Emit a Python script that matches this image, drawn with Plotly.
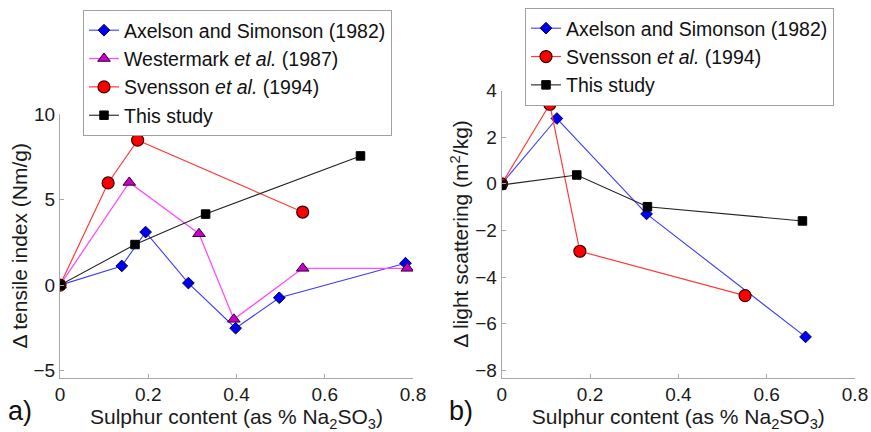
import plotly.graph_objects as go

# ---- data ----
# Panel a) tensile index
ax_tensile_x = [0, 0.14, 0.194, 0.291, 0.398, 0.497, 0.783]
ax_tensile_y = [0, 1.12, 3.1, 0.12, -2.52, -0.74, 1.28]
we_tensile_x = [0, 0.157, 0.315, 0.394, 0.55, 0.787]
we_tensile_y = [0, 6.0, 3.0, -2.0, 0.98, 0.98]
sv_tensile_x = [0, 0.109, 0.176, 0.55]
sv_tensile_y = [0, 5.97, 8.47, 4.27]
ts_tensile_x = [0, 0.17, 0.33, 0.681]
ts_tensile_y = [0, 2.37, 4.15, 7.55]

# Panel b) light scattering
ax_light_x = [0, 0.125, 0.328, 0.688]
ax_light_y = [0, 2.8, -1.29, -6.56]
sv_light_x = [0, 0.109, 0.177, 0.551]
sv_light_y = [0, 3.41, -2.89, -4.79]
ts_light_x = [0, 0.17, 0.33, 0.681]
ts_light_y = [-0.05, 0.38, -0.98, -1.59]

x_ticks = [0, 0.2, 0.4, 0.6, 0.8]
x_ticktext = ["0", "0.2", "0.4", "0.6", "0.8"]
ya_ticks = [-5, 0, 5, 10]
yb_ticks = [-8, -6, -4, -2, 0, 2, 4]

names = ["Axelson and Simonson (1982)", "Westermark <i>et al.</i> (1987)",
         "Svensson <i>et al.</i> (1994)", "This study"]

FONT = "Liberation Sans, Arial, sans-serif"
W, H = 871, 432

styles = {
    "ax": dict(line=dict(color="#3c3cff", width=1.1),
               marker=dict(symbol="diamond", size=9, color="#0000ee",
                           line=dict(color="#000050", width=1))),
    "we": dict(line=dict(color="#ff4cff", width=1.3),
               marker=dict(symbol="triangle-up", size=11, color="#c800c8",
                           line=dict(color="#300030", width=1))),
    "sv": dict(line=dict(color="#ff3a3a", width=1.2),
               marker=dict(symbol="circle", size=12, color="#ff0000",
                           line=dict(color="#3a0000", width=1.2))),
    "ts": dict(line=dict(color="#222222", width=1.1),
               marker=dict(symbol="square", size=8.5, color="#000000",
                           line=dict(color="#000000", width=1))),
}

fig = go.Figure()

def add(x, y, key, name, xa, ya, legend):
    fig.add_trace(go.Scatter(x=x, y=y, mode="lines+markers", name=name,
                             xaxis=xa, yaxis=ya, legend=legend, **styles[key]))

add(ax_tensile_x, ax_tensile_y, "ax", names[0], "x", "y", "legend")
add(we_tensile_x, we_tensile_y, "we", names[1], "x", "y", "legend")
add(sv_tensile_x, sv_tensile_y, "sv", names[2], "x", "y", "legend")
add(ts_tensile_x, ts_tensile_y, "ts", names[3], "x", "y", "legend")

add(ax_light_x, ax_light_y, "ax", names[0], "x2", "y2", "legend2")
add(sv_light_x, sv_light_y, "sv", names[2], "x2", "y2", "legend2")
add(ts_light_x, ts_light_y, "ts", names[3], "x2", "y2", "legend2")

axis_common = dict(showline=True, linecolor="#a8a8a8", linewidth=1, mirror=False,
                   ticks="inside", ticklen=4, tickcolor="#a8a8a8",
                   showgrid=False, zeroline=False, automargin=False,
                   tickfont=dict(family=FONT, size=19, color="#1a1a1a"))

xtitle = "Sulphur content (as % Na<sub>2</sub>SO<sub>3</sub>)"
LEG = 19.5

fig.update_layout(
    width=W, height=H,
    margin=dict(l=0, r=0, t=0, b=0, pad=0, autoexpand=False),
    paper_bgcolor="white", plot_bgcolor="white",
    font=dict(family=FONT, color="#1a1a1a"),
    xaxis=dict(domain=[60 / W, 413 / W], range=[0, 0.8], tickvals=x_ticks,
               ticktext=x_ticktext, anchor="y",
               title=dict(text=xtitle, font=dict(size=21), standoff=0), **axis_common),
    yaxis=dict(domain=[1 - 377.5 / H, 1 - 114 / H], range=[-5.4, 10], tickvals=ya_ticks,
               anchor="x",
               title=dict(text="Δ tensile index (Nm/g)", font=dict(size=21), standoff=0),
               **axis_common),
    xaxis2=dict(domain=[501.7 / W, 855 / W], range=[0, 0.8], tickvals=x_ticks,
                ticktext=x_ticktext, anchor="y2",
                title=dict(text=xtitle, font=dict(size=21), standoff=0), **axis_common),
    yaxis2=dict(domain=[1 - 377.5 / H, 1 - 90.5 / H], range=[-8.3, 4], tickvals=yb_ticks,
                anchor="x2",
                title=dict(text="Δ light scattering (m<sup>2</sup>/kg)", font=dict(size=21),
                           standoff=0),
                **axis_common),
    legend=dict(x=83 / W, y=1 - 10 / H, xanchor="left", yanchor="top",
                bgcolor="white", bordercolor="#a0a0a0", borderwidth=1,
                font=dict(family=FONT, size=LEG, color="#111111"), itemwidth=30),
    legend2=dict(x=525 / W, y=1 - 8 / H, xanchor="left", yanchor="top",
                 bgcolor="white", bordercolor="#a0a0a0", borderwidth=1,
                 font=dict(family=FONT, size=LEG, color="#111111"), itemwidth=30),
    showlegend=True,
    annotations=[
        dict(text="a)", x=6 / W, y=1 - 411 / H, xref="paper", yref="paper",
             xanchor="left", yanchor="middle", showarrow=False,
             font=dict(family=FONT, size=27, color="#111111")),
        dict(text="b)", x=447 / W, y=1 - 411 / H, xref="paper", yref="paper",
             xanchor="left", yanchor="middle", showarrow=False,
             font=dict(family=FONT, size=27, color="#111111")),
    ],
)

fig.write_html("out.html", config={"displayModeBar": False},
               post_script="document.body.style.margin='0px';document.body.style.overflow='hidden';")
